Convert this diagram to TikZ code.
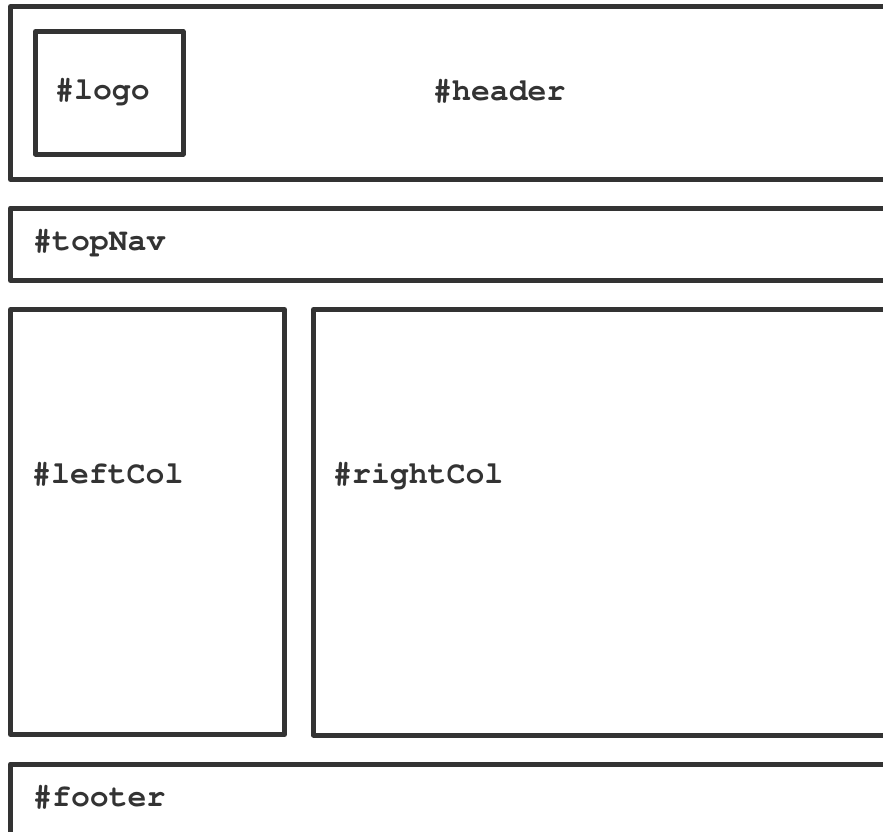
\documentclass[tikz,border=0pt]{standalone}
\usepackage[T1]{fontenc}
\usetikzlibrary{positioning}
\definecolor{boxgray}{HTML}{333333}
\tikzset{
    region/.style={draw=boxgray, line width=5pt, line join=round},
    tag/.style={anchor=base west, inner sep=0pt, text=boxgray,
        font=\fontfamily{pcr}\fontseries{b}\fontsize{31.5}{36}\selectfont}
}
\begin{document}
\begin{tikzpicture}[x=1pt,y=-1pt]
    \useasboundingbox (0,0) rectangle (883,832);
    \clip (0,0) rectangle (883,832);
    % page regions
    \draw[region] (10.5,6.5) rectangle (900,179.5);
    \draw[region] (35.5,31.5) rectangle (183,154);
    \draw[region] (10.5,208) rectangle (900,280.5);
    \draw[region] (10.5,309.5) rectangle (284.5,734.5);
    \draw[region] (313.5,309.5) rectangle (900,735);
    \draw[region] (10.5,764) rectangle (900,900);
    % labels
    \node[tag] (logo) at (55,100) {\#logo};
    \node[tag] (header) at (433,101) {\#header};
    \node[tag] (topNav) at (33,250) {\#topNav};
    \node[tag] (leftCol) at (32,483) {\#leftCol};
    \node[tag] (rightCol) at (333,483) {\#rightCol};
    \node[tag] (footer) at (33,806) {\#footer};
\end{tikzpicture}
\end{document}
